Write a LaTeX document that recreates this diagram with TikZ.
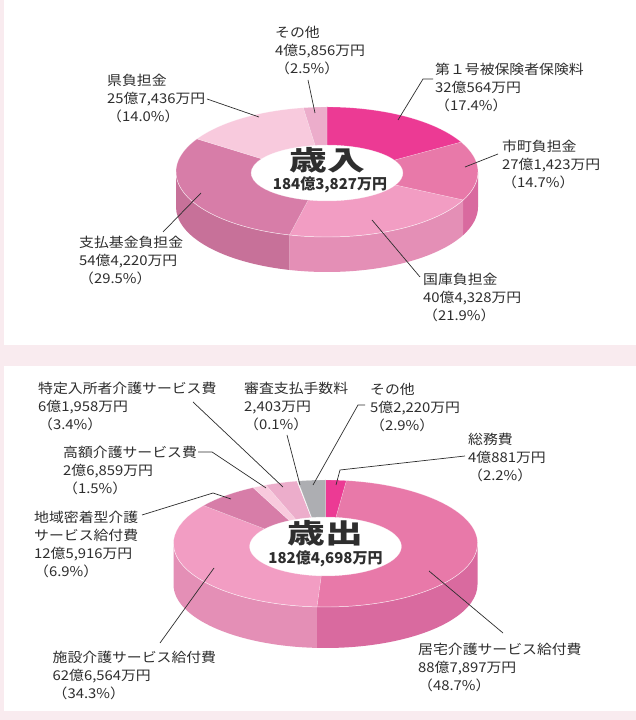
\documentclass[tikz,border=0pt]{standalone}
\usepackage{fontspec}
\usetikzlibrary{calc}
\newfontfamily\jpfont[FakeStretch=1.1]{Noto Sans CJK JP}
\newfontfamily\jpwide[FakeStretch=1.4]{Noto Sans CJK JP}
\newfontfamily\jpsum{Noto Sans CJK JP}
\newcommand{\lblfont}{\jpfont\fontsize{13.5}{18}\selectfont}
\newcommand{\bigfont}{\jpwide\bfseries\fontsize{27}{30}\selectfont}
\newcommand{\sumfont}{\jpsum\bfseries\fontsize{15}{18}\selectfont}

\definecolor{bgpink}{HTML}{F9EBEF}
\definecolor{txt}{HTML}{2E2E2E}
\definecolor{pkA}{HTML}{EC3A94}
\definecolor{pkB}{HTML}{E879A9}
\definecolor{pkBs}{HTML}{D96A9F}
\definecolor{pkC}{HTML}{F29DC3}
\definecolor{pkCs}{HTML}{E48FB6}
\definecolor{pkD}{HTML}{D77DA8}
\definecolor{pkDs}{HTML}{C77199}
\definecolor{pkE}{HTML}{F8CADD}
\definecolor{pkF}{HTML}{ECADCB}
\definecolor{grF}{HTML}{ADAEB2}

\begin{document}
\begin{tikzpicture}[x=1pt, y=1pt,
  lbl/.style={font=\lblfont, text=txt, align=left, anchor=north west, inner sep=0pt},
  total/.style={text=txt, anchor=base, inner sep=0pt},
  leader/.style={draw=txt, line width=0.7pt},
  rim/.style={draw=white, draw opacity=.35, line width=.4pt}]

\useasboundingbox (0,0) rectangle (636,720);
\fill[bgpink] (0,0) rectangle (636,720);
\fill[white] (4,375) rectangle (636,720);
\fill[white] (4,9) rectangle (636,354);

% 歳入
\def\cx{327}\def\cy{548}\def\rx{151}\def\ry{65}
\def\icy{547}\def\irx{76}\def\iry{28}\def\dep{35}

\foreach \a/\b/\c in {0/-25.56/pkBs, -25.56/-104.4/pkCs, -104.4/-180/pkDs}
  \fill[\c] ($(\cx,\cy)+(\a:{\rx} and {\ry})$)
    arc[start angle=\a, end angle=\b, x radius=\rx, y radius=\ry] -- ++(0,-\dep)
    arc[start angle=\b, end angle=\a, x radius=\rx, y radius=\ry] -- cycle;

\foreach \a/\b/\c in {90/27.36/pkA, 27.36/-25.56/pkB, -25.56/-104.4/pkC,
                      -104.4/-210.6/pkD, -210.6/-261/pkE, -261/-270/pkF}
  \filldraw[fill=\c, rim] ($(\cx,\cy)+(\a:{\rx} and {\ry})$)
    arc[start angle=\a, end angle=\b, x radius=\rx, y radius=\ry]
    -- ($(\cx,\icy)+(\b:{\irx} and {\iry})$)
    arc[start angle=\b, end angle=\a, x radius=\irx, y radius=\iry] -- cycle;

\draw[white, opacity=.6, line width=.5pt] ($(\cx,\cy)+(180:{\rx} and {\ry})$)
  arc[start angle=180, end angle=360, x radius=\rx, y radius=\ry];

\node[total, font=\bigfont] (in-title) at (327,549.7) {歳入};
\node[total, font=\sumfont] (in-sum) at (330,530.5) {184億3,827万円};

\node[lbl] (in-sonota) at (275,694.5) {その他\\4億5,856万円\\（2.5\%）};
\node[lbl] (in-ken) at (107,646.5) {県負担金\\25億7,436万円\\（14.0\%）};
\node[lbl] (in-dai1) at (435,657.5) {第１号被保険者保険料\\32億564万円\\（17.4\%）};
\node[lbl] (in-shicho) at (502,580.5) {市町負担金\\27億1,423万円\\（14.7\%）};
\node[lbl] (in-shiharai) at (79,484.5) {支払基金負担金\\54億4,220万円\\（29.5\%）};
\node[lbl] (in-kokko) at (423,447.5) {国庫負担金\\40億4,328万円\\（21.9\%）};

\coordinate (in-sonota-a) at (308,640);  \coordinate (in-sonota-b) at (315,607);
\coordinate (in-ken-a) at (207,621);     \coordinate (in-ken-b) at (259,603);
\coordinate (in-dai1-a) at (433,641);    \coordinate (in-dai1-k) at (423,641);
\coordinate (in-dai1-b) at (398,600);
\coordinate (in-shicho-a) at (498,566);  \coordinate (in-shicho-b) at (465,553);
\coordinate (in-shiharai-a) at (163,488); \coordinate (in-shiharai-b) at (201,527);
\coordinate (in-kokko-a) at (420,443);   \coordinate (in-kokko-b) at (372,500);

\foreach \n in {sonota,ken,shicho,shiharai,kokko}
  \draw[leader] (in-\n-a) -- (in-\n-b);
\draw[leader] (in-dai1-a) -- (in-dai1-k) -- (in-dai1-b);

% 歳出
\def\cx{325.5}\def\cy{176.5}\def\rx{152}\def\ry{63.5}
\def\icy{173.5}\def\irx{76}\def\iry{29.5}\def\dep{41}

\foreach \a/\b/\c in {0/-93.24/pkBs, -93.24/-180/pkCs}
  \fill[\c] ($(\cx,\cy)+(\a:{\rx} and {\ry})$)
    arc[start angle=\a, end angle=\b, x radius=\rx, y radius=\ry] -- ++(0,-\dep)
    arc[start angle=\b, end angle=\a, x radius=\rx, y radius=\ry] -- cycle;

\foreach \a/\b/\c in {90/82.08/pkA, 82.08/-93.24/pkB, -93.24/-216.72/pkC,
                      -216.72/-241.56/pkD, -241.56/-246.96/pkE, -246.96/-259.2/pkF,
                      -259.2/-259.56/white, -259.56/-270/grF}
  \filldraw[fill=\c, rim] ($(\cx,\cy)+(\a:{\rx} and {\ry})$)
    arc[start angle=\a, end angle=\b, x radius=\rx, y radius=\ry]
    -- ($(\cx,\icy)+(\b:{\irx} and {\iry})$)
    arc[start angle=\b, end angle=\a, x radius=\irx, y radius=\iry] -- cycle;

\draw[white, opacity=.6, line width=.5pt] ($(\cx,\cy)+(180:{\rx} and {\ry})$)
  arc[start angle=180, end angle=360, x radius=\rx, y radius=\ry];

\node[total, font=\bigfont] (out-title) at (325,176.7) {歳出};
\node[total, font=\sumfont] (out-sum) at (325.5,156.5) {182億4,698万円};

\node[lbl] (out-tokutei) at (38,338.5) {特定入所者介護サービス費\\6億1,958万円\\（3.4\%）};
\node[lbl] (out-shinsa) at (244,338.5) {審査支払手数料\\2,403万円\\（0.1\%）};
\node[lbl] (out-sonota) at (370,337.5) {その他\\5億2,220万円\\（2.9\%）};
\node[lbl] (out-somu) at (468,287.5) {総務費\\4億881万円\\（2.2\%）};
\node[lbl] (out-kogaku) at (63,274.5) {高額介護サービス費\\2億6,859万円\\（1.5\%）};
\node[lbl] (out-chiiki) at (34,209.5) {地域密着型介護\\サービス給付費\\12億5,916万円\\（6.9\%）};
\node[lbl] (out-shisetsu) at (52.5,69.5) {施設介護サービス給付費\\62億6,564万円\\（34.3\%）};
\node[lbl] (out-kyotaku) at (418,77.5) {居宅介護サービス給付費\\88億7,897万円\\（48.7\%）};

\coordinate (out-tokutei-a) at (193,318);  \coordinate (out-tokutei-b) at (283,233);
\coordinate (out-shinsa-a) at (287,285);   \coordinate (out-shinsa-b) at (300,235);
\coordinate (out-shisetsu-a) at (160,77);  \coordinate (out-shisetsu-b) at (214,152);
\coordinate (out-kyotaku-a) at (503,87);   \coordinate (out-kyotaku-b) at (429,149);
\coordinate (out-sonota-a) at (365,315);   \coordinate (out-sonota-k) at (358,315);
\coordinate (out-sonota-b) at (313,235);
\coordinate (out-somu-a) at (465,264);     \coordinate (out-somu-k) at (340,250);
\coordinate (out-somu-b) at (336,235);
\coordinate (out-kogaku-a) at (198,268);   \coordinate (out-kogaku-k) at (212,268);
\coordinate (out-kogaku-b) at (266,232);
\coordinate (out-chiiki-a) at (142,205);   \coordinate (out-chiiki-k) at (213,227);
\coordinate (out-chiiki-b) at (231,221);

\foreach \n in {tokutei,shinsa,shisetsu,kyotaku}
  \draw[leader] (out-\n-a) -- (out-\n-b);
\foreach \n in {sonota,somu,kogaku,chiiki}
  \draw[leader] (out-\n-a) -- (out-\n-k) -- (out-\n-b);

\end{tikzpicture}
\end{document}
